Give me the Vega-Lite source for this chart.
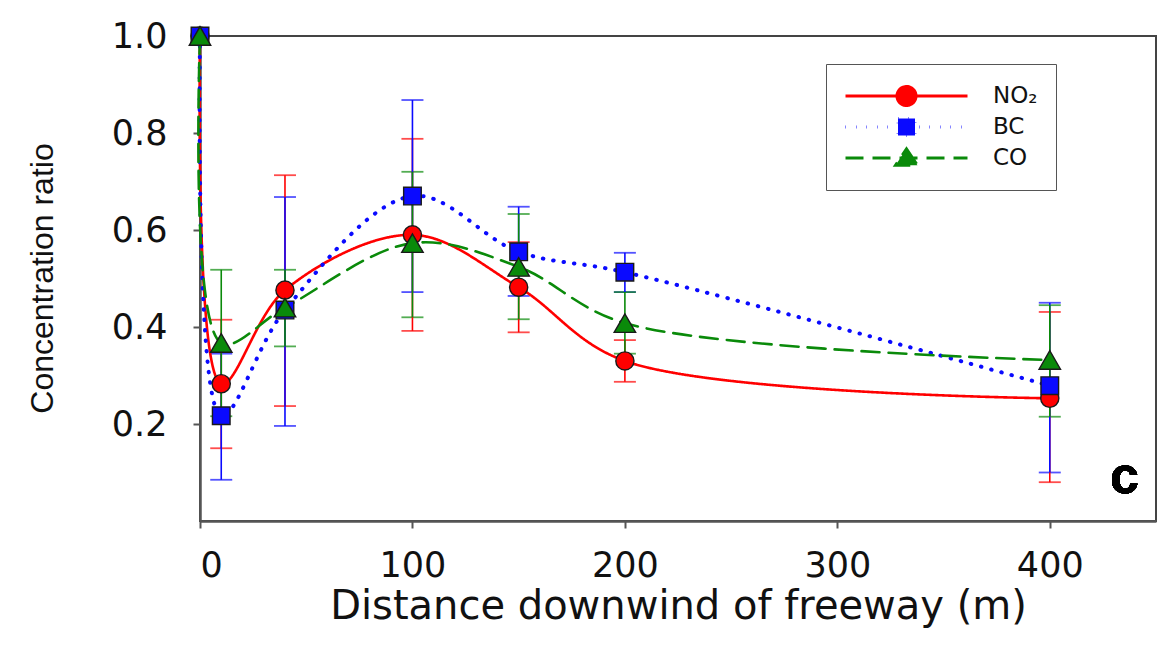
{
  "$schema": "https://vega.github.io/schema/vega-lite/v6.json",
  "width": 956,
  "height": 485,
  "autosize": {"type": "none"},
  "padding": {"left": 200, "top": 36, "right": 13, "bottom": 124},
  "background": "white",
  "config": {
    "view": {"stroke": "#444", "strokeWidth": 2},
    "axis": {"grid": false, "domainColor": "#555", "domainWidth": 2.5, "tickColor": "#555", "tickWidth": 2, "tickSize": 7, "labelColor": "#111", "titleColor": "#111", "titleFontWeight": "normal"},
    "legend": {
      "orient": "none", "legendX": 626, "legendY": 28,
      "strokeColor": "#555", "fillColor": "white", "padding": 18,
      "labelFont": "DejaVu Sans", "labelFontSize": 23, "labelColor": "#111", "labelOffset": 24,
      "rowPadding": 3, "clipHeight": 28
    }
  },
  "data": {
    "values": [
      {"series": "NO₂", "x": 0, "y": 1.0, "lo": 1.0, "hi": 1.0},
      {"series": "NO₂", "x": 10, "y": 0.283, "lo": 0.15, "hi": 0.415},
      {"series": "NO₂", "x": 40, "y": 0.476, "lo": 0.237, "hi": 0.713},
      {"series": "NO₂", "x": 100, "y": 0.59, "lo": 0.392, "hi": 0.788},
      {"series": "NO₂", "x": 150, "y": 0.482, "lo": 0.389, "hi": 0.575},
      {"series": "NO₂", "x": 200, "y": 0.33, "lo": 0.287, "hi": 0.373},
      {"series": "NO₂", "x": 400, "y": 0.253, "lo": 0.08, "hi": 0.431},
      {"series": "BC", "x": 0, "y": 1.0, "lo": 1.0, "hi": 1.0},
      {"series": "BC", "x": 10, "y": 0.217, "lo": 0.085, "hi": 0.345},
      {"series": "BC", "x": 40, "y": 0.435, "lo": 0.196, "hi": 0.668},
      {"series": "BC", "x": 100, "y": 0.67, "lo": 0.472, "hi": 0.868},
      {"series": "BC", "x": 150, "y": 0.555, "lo": 0.464, "hi": 0.648},
      {"series": "BC", "x": 200, "y": 0.513, "lo": 0.472, "hi": 0.553},
      {"series": "BC", "x": 400, "y": 0.279, "lo": 0.1, "hi": 0.45},
      {"series": "CO", "x": 0, "y": 1.0, "lo": 1.0, "hi": 1.0},
      {"series": "CO", "x": 10, "y": 0.367, "lo": 0.216, "hi": 0.518},
      {"series": "CO", "x": 40, "y": 0.44, "lo": 0.36, "hi": 0.518},
      {"series": "CO", "x": 100, "y": 0.573, "lo": 0.42, "hi": 0.72},
      {"series": "CO", "x": 150, "y": 0.524, "lo": 0.416, "hi": 0.633},
      {"series": "CO", "x": 200, "y": 0.408, "lo": 0.345, "hi": 0.472},
      {"series": "CO", "x": 400, "y": 0.332, "lo": 0.215, "hi": 0.445}
    ]
  },
  "encoding": {
    "x": {"field": "x", "type": "quantitative", "scale": {"domain": [0, 450], "nice": false},
      "axis": {"values": [0, 100, 200, 300, 400], "labelFont": "DejaVu Sans", "labelFontSize": 35, "labelPadding": 20,
        "title": "Distance downwind of freeway (m)", "titleFont": "DejaVu Sans", "titleFontSize": 40,
        "titleX": 478, "titleY": 97, "titleBaseline": "alphabetic"}},
    "y": {"field": "y", "type": "quantitative", "scale": {"domain": [0, 1], "nice": false},
      "axis": {"values": [0.2, 0.4, 0.6, 0.8, 1.0], "format": ".1f", "labelFont": "DejaVu Sans", "labelFontSize": 35, "labelPadding": 26,
        "title": "Concentration ratio", "titleFont": "Liberation Sans", "titleFontSize": 32,
        "titleX": -148, "titleY": 242, "titleBaseline": "alphabetic", "titleAngle": -90}},
    "color": {"field": "series", "type": "nominal",
      "scale": {"domain": ["NO₂", "BC", "CO"], "range": ["#ff0000", "#0a0aff", "#0a8a0a"]},
      "legend": {
        "title": null,
        "symbolSize": 14884,
        "symbolOpacity": 1,
        "symbolStrokeWidth": 3,
        "symbolType": {"expr": "datum.value === 'NO₂' ? 'M-1,0L1,0M0.156,0A0.156,0.156,0,1,1,-0.156,0A0.156,0.156,0,1,1,0.156,0Z' : datum.value === 'BC' ? 'M-1,0L1,0M-0.139,-0.139L0.139,-0.139L0.139,0.139L-0.139,0.139Z' : 'M-1,0L1,0M0,-0.15L0.18,0.12L-0.18,0.12Z'"},
        "symbolDash": {"expr": "datum.value === 'BC' ? [0.5, 9] : datum.value === 'CO' ? [18, 9] : [1, 0]"},
        "symbolStrokeColor": {"expr": "datum.value === 'NO₂' ? '#ff0000' : datum.value === 'BC' ? '#0a0aff' : '#0a8a0a'"},
        "symbolFillColor": {"expr": "datum.value === 'NO₂' ? '#ff0000' : datum.value === 'BC' ? '#0a0aff' : '#0a8a0a'"}
      }}
  },
  "layer": [
    {
      "transform": [{"filter": "datum.x > 0"}],
      "mark": {"type": "errorbar", "ticks": {"size": 22, "thickness": 1.8}, "thickness": 1.6},
      "encoding": {
        "y": {"field": "lo", "type": "quantitative", "title": "Concentration ratio"},
        "y2": {"field": "hi"}
      }
    },
    {
      "mark": {"type": "line", "interpolate": "catmull-rom", "strokeCap": "round"},
      "encoding": {
        "strokeWidth": {"condition": {"test": "datum.series === 'BC'", "value": 4}, "value": 2.6},
        "strokeDash": {"field": "series", "type": "nominal", "legend": null,
          "scale": {"domain": ["NO₂", "BC", "CO"], "range": [[1, 0], [0.5, 10], [18, 9]]}}
      }
    },
    {
      "transform": [{"filter": "datum.series === 'NO₂'"}],
      "mark": {"type": "point", "shape": "circle", "size": 330, "filled": true, "opacity": 1, "stroke": "#1a1a1a", "strokeWidth": 1.4}
    },
    {
      "transform": [{"filter": "datum.series === 'BC'"}],
      "mark": {"type": "point", "shape": "square", "size": 310, "filled": true, "opacity": 1, "stroke": "#1a1a1a", "strokeWidth": 1.4}
    },
    {
      "transform": [{"filter": "datum.series === 'CO'"}],
      "mark": {"type": "point", "shape": "triangle-up", "size": 460, "filled": true, "opacity": 1, "stroke": "#1a1a1a", "strokeWidth": 1.4}
    },
    {
      "mark": {"type": "text", "text": "c", "font": "Liberation Sans", "fontWeight": "bold", "fontSize": 52, "align": "right", "baseline": "alphabetic", "color": "#000"},
      "encoding": {
        "x": {"datum": 442},
        "y": {"datum": 0.058},
        "color": {"value": "#000"}
      }
    }
  ]
}
